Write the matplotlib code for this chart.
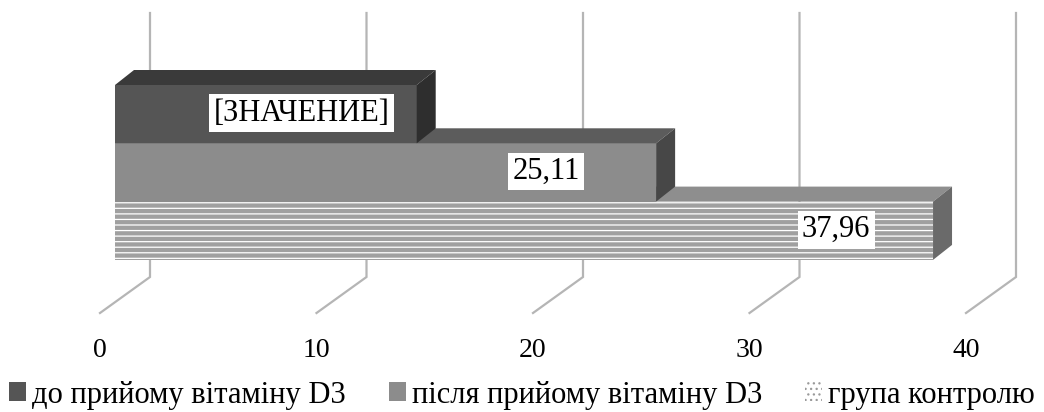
import matplotlib.pyplot as plt
from matplotlib.patches import Polygon, Patch

# дані діаграми
series = ['до прийому вітаміну D3', 'після прийому вітаміну D3', 'група контролю']
values = [14.0, 25.11, 37.96]
value_labels = ['[ЗНАЧЕНИЕ]', '25,11', '37,96']
ticks = [0, 10, 20, 30, 40]
tick_labels = ['0', '10', '20', '30', '40']

# кольори граней (фронт, верх, бік)
front_colors = ['#555555', '#8c8c8c', '#a0a0a0']
top_colors = ['#3a3a3a', '#5c5c5c', '#8e8e8e']
side_colors = ['#2e2e2e', '#474747', '#6a6a6a']

plt.rcParams['font.family'] = ['Liberation Serif', 'DejaVu Serif']
plt.rcParams['hatch.linewidth'] = 0.9

W, H = 1044, 412
fig = plt.figure(figsize=(W / 100, H / 100), dpi=100)
ax = fig.add_axes([0, 0, 1, 1])

# масштаб: пікселі на одиницю
px_x = 21.55      # по осі значень (передня площина)
px_y = 58.3       # висота одного бару
x_front0 = 115    # де 0 на передній площині
y_top = 85        # верх першого бару

ax.set_xlim(-x_front0 / px_x, (W - x_front0) / px_x)
ax.set_ylim((H - y_top) / px_y - 0.5, -y_top / px_y - 0.5)
ax.axis('off')


def dx(p):
    return p / px_x


def dy(p):
    return p / px_y


# задня стінка і підлога: сітка
wall_off = dx(35)
wall_scale = 21.65 / px_x
y_grid_top = dy(13 - y_top) - 0.5
y_grid_bot = dy(277 - y_top) - 0.5
y_floor = dy(313 - y_top) - 0.5
y_tick = dy(350 - y_top) - 0.5
for t, lab in zip(ticks, tick_labels):
    xw = wall_off + t * wall_scale
    xf = xw - dx(50)
    ax.plot([xw, xw, xf], [y_grid_top, y_grid_bot, y_floor],
            color='#b5b5b5', lw=1.6, zorder=1, solid_joinstyle='miter')
    ax.text(xf, y_tick, lab, ha='center', va='center', fontsize=20)

# глибина бару
ddx = dx(19)
ddy = dy(-15)

for i in [2, 1, 0]:
    v = values[i]
    z = 10 + (2 - i) * 3
    if i == 2:
        ax.barh(i, v, height=1, left=0, color=front_colors[i], edgecolor='white',
                hatch='---', linewidth=0, zorder=z)
    else:
        ax.barh(i, v, height=1, left=0, color=front_colors[i], linewidth=0, zorder=z)
    top = Polygon([(0, i - 0.5), (v, i - 0.5), (v + ddx, i - 0.5 + ddy), (ddx, i - 0.5 + ddy)],
                  closed=True, facecolor=top_colors[i], linewidth=0, zorder=z)
    side = Polygon([(v, i - 0.5), (v + ddx, i - 0.5 + ddy), (v + ddx, i + 0.5 + ddy), (v, i + 0.5)],
                   closed=True, facecolor=side_colors[i], linewidth=0, zorder=z + 1)
    ax.add_patch(top)
    ax.add_patch(side)

# підписи значень
label_shift = [dx(-115), dx(-110), dx(-97)]
for i, (v, lab) in enumerate(zip(values, value_labels)):
    ax.text(v + label_shift[i], i - dy(1), lab, ha='center', va='center', fontsize=22,
            zorder=30, bbox=dict(facecolor='white', edgecolor='none', pad=3))

handles = [
    Patch(facecolor=front_colors[0], edgecolor='none'),
    Patch(facecolor=front_colors[1], edgecolor='none'),
    Patch(facecolor='white', edgecolor='#9a9a9a', hatch='...', linewidth=0),
]
fig.legend(handles, series, loc='center', bbox_to_anchor=(0.5, 1 - 395 / H), ncol=3,
           frameon=False, fontsize=22, handlelength=0.55, handleheight=0.55,
           handletextpad=0.2, columnspacing=1.4, borderaxespad=0, borderpad=0)

fig.savefig('out.png', dpi=100)
